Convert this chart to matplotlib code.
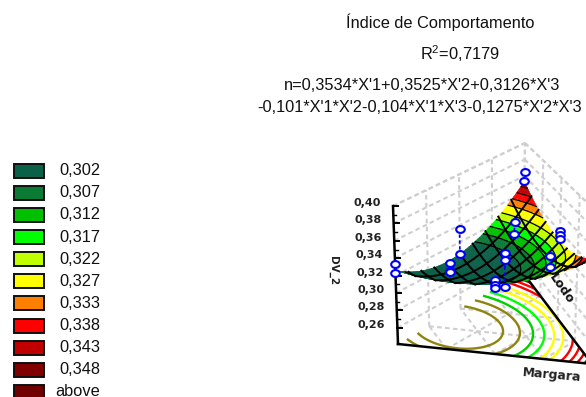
import numpy as np
import matplotlib
matplotlib.use("Agg")
import matplotlib.pyplot as plt
from matplotlib.collections import PolyCollection
from matplotlib.patches import Rectangle
from matplotlib.path import Path
from matplotlib.tri import Triangulation

# ---------- data ----------
title_lines = ["Índice de Comportamento", "R$^{2}$=0,7179",
               "n=0,3534*X'1+0,3525*X'2+0,3126*X'3",
               "-0,101*X'1*X'2-0,104*X'1*X'3-0,1275*X'2*X'3"]
legend_labels = ["0,302", "0,307", "0,312", "0,317", "0,322", "0,327",
                 "0,333", "0,338", "0,343", "0,348", "above"]
legend_colors = ["#0B6048", "#0A7A35", "#00C000", "#00FF00", "#BFFF00", "#FFFF00",
                 "#FF8000", "#FF0000", "#C00000", "#800000", "#700000"]
level_values = [0.302, 0.307, 0.312, 0.317, 0.322, 0.327, 0.333, 0.338, 0.343, 0.348]
z_ticks = [0.26, 0.28, 0.30, 0.32, 0.34, 0.36, 0.38, 0.40]
z_tick_labels = ["0,26", "0,28", "0,30", "0,32", "0,34", "0,36", "0,38", "0,40"]

# printed model, order (A=X'3, B=X'1, C=X'2): colours
model_main = [0.3126, 0.3534, 0.3525]
model_inter = [0.104, 0.1275, 0.101]     # AB, AC, BC
# surface height
height_main = [0.326, 0.3525, 0.3534]
height_inter = [0.084, 0.134, 0.0976]    # AB, AC, BC

contour_colors = ["#8F8410", "#8F8410", "#00D000", "#00FF00", "#FFFF00", "#FFFF00",
                  "#FF0000", "#FF0000", "#C00000", "#900000"]

# observations: weights on A, B, C and response
pt_a = [1, 1, .5, .5, 2/3, 2/3, 2/3, .5, .5, .5, 1/3, 1/3, 1/3, 1/6, 1/6, 0, 0, 0, 0, 0, 1/6, 1/6]
pt_b = [0, 0, 0, 0, 1/6, 1/6, 1/6, .5, .5, .5, 1/3, 1/3, 1/3, 1/6, 1/6, 0, 0, .5, .5, .5, 2/3, 2/3]
pt_c = [0, 0, .5, .5, 1/6, 1/6, 1/6, 0, 0, 0, 1/3, 1/3, 1/3, 2/3, 2/3, 1, 1, .5, .5, .5, 1/6, 1/6]
pt_z = [.3329, .3225, .3359, .3062, .3246, .3154, .3143, .3227, .3172, .3136,
        .3250, .3175, .2864, .3333, .3187, .3650, .3540, .3406, .3354, .3309, .3396, .3268]

# ---------- layout ----------
BASE_X = np.array([398.0, 592.0, 523.0])   # corners A, B, C on the floor
BASE_Y = np.array([344.0, 364.0, 273.0])
TOP_X = np.array([393.0, 598.0, 525.0])    # same corners at the top of the box
TOP_Y = np.array([206.0, 213.0, 143.0])
Z0, Z1 = 0.2415, 0.40


def project(a, b, c, z):
    a, b, c, z = map(np.asarray, (a, b, c, z))
    f = (z - Z0) / (Z1 - Z0)
    bx = a * BASE_X[0] + b * BASE_X[1] + c * BASE_X[2]
    by = a * BASE_Y[0] + b * BASE_Y[1] + c * BASE_Y[2]
    tx = a * TOP_X[0] + b * TOP_X[1] + c * TOP_X[2]
    ty = a * TOP_Y[0] + b * TOP_Y[1] + c * TOP_Y[2]
    return bx + (tx - bx) * f, by + (ty - by) * f


def height(a, b, c):
    m, k = height_main, height_inter
    return m[0]*a + m[1]*b + m[2]*c - k[0]*a*b - k[1]*a*c - k[2]*b*c


def colour_value(a, b, c):
    m, k = model_main, model_inter
    return m[0]*a + m[1]*b + m[2]*c - k[0]*a*b - k[1]*a*c - k[2]*b*c


plt.rcParams['font.family'] = ['Liberation Sans', 'DejaVu Sans']
plt.rcParams['mathtext.fontset'] = 'custom'
plt.rcParams['mathtext.rm'] = 'Liberation Sans'
fig = plt.figure(figsize=(5.86, 3.97), dpi=100)
ax = fig.add_axes([0, 0, 1, 1])
ax.set_xlim(0, 586)
ax.set_ylim(397, 0)
ax.axis('off')

# titles
for txt, x, y in zip(title_lines, [440, 460, 422, 420], [22, 54, 85, 108]):
    ax.text(x, y, txt, ha='center', va='center', fontsize=11.8, color='#111111')

# legend
for i, (lab, col) in enumerate(zip(legend_labels, legend_colors)):
    yc = 170.7 + i * 22.13
    ax.add_patch(Rectangle((13.5, yc - 7), 30, 14, fc=col, ec='#101010', lw=1.4, clip_on=False))
    ax.text(55 if lab == 'above' else 59, yc - (1 if lab == 'above' else 0), lab,
            ha='left', va='center', fontsize=11.8, color='#111111')

# grey walls and floor grid
grid = dict(color='#CFCFCF', lw=1.5, ls=(0, (2.2, 1.6)), zorder=1)
for zv in z_ticks + [Z1]:
    x, y = project([1, 0], [0, 0], [0, 1], [zv, zv]); ax.plot(x, y, **grid)
    x, y = project([0, 0], [0, 1], [1, 0], [zv, zv]); ax.plot(x, y, **grid)
for t in [.25, .5, .75, 1.0]:
    x, y = project([1-t]*2, [0]*2, [t]*2, [Z0, Z1]); ax.plot(x, y, **grid)
    x, y = project([0]*2, [1-t]*2, [t]*2, [Z0, Z1]); ax.plot(x, y, **grid)
for t in [.25, .5, .75]:
    x, y = project([t, t], [1-t, 0], [0, 1-t], [Z0, Z0]); ax.plot(x, y, **grid)
    x, y = project([1-t, 0], [t, t], [0, 1-t], [Z0, Z0]); ax.plot(x, y, **grid)
    x, y = project([1-t, 0], [0, 1-t], [t, t], [Z0, Z0]); ax.plot(x, y, **grid)

# fine simplex mesh
N = 72
ii, jj = np.meshgrid(np.arange(N+1), np.arange(N+1), indexing='ij')
mask = ii + jj <= N
idx = -np.ones_like(ii); idx[mask] = np.arange(mask.sum())
wa = ii[mask] / N; wb = jj[mask] / N; wc = 1 - wa - wb
tris = []
for i in range(N):
    for j in range(N - i):
        tris.append((idx[i, j], idx[i+1, j], idx[i, j+1]))
        if i + j < N - 1:
            tris.append((idx[i+1, j], idx[i+1, j+1], idx[i, j+1]))
tris = np.array(tris)

# floor contours
fx, fy = project(wa, wb, wc, np.full_like(wa, Z0))
tri_floor = Triangulation(fx, fy, tris)
ax.tricontour(tri_floor, colour_value(wa, wb, wc), levels=level_values,
              colors=contour_colors, linewidths=1.7, zorder=2)

# black frame
x, y = project([1, 0], [0, 1], [0, 0], [Z0, Z0]); ax.plot(x, y, color='k', lw=1.8, zorder=3)
x, y = project([0, 0], [1, 0], [0, 1], [Z0, Z0]); ax.plot(x, y, color='k', lw=1.8, zorder=3)
x, y = project([1, 1], [0, 0], [0, 0], [Z0, Z1]); ax.plot(x, y, color='k', lw=1.8, zorder=3)
for zv, lab in zip(z_ticks, z_tick_labels):
    x, y = project(1, 0, 0, zv)
    ax.plot([x, x + 5], [y, y], color='k', lw=1.4, zorder=3)
    ax.text(x - 12, y - 3, lab, ha='right', va='center', fontsize=8,
            family='DejaVu Sans', fontweight='bold', color='#222222')
for zv in z_ticks[:-1]:
    x, y = project(1, 0, 0, zv + 0.01)
    ax.plot([x, x + 3], [y, y], color='k', lw=1.0, zorder=3)

# surface: a legend entry gives the lower bound of its colour band
hs = height(wa, wb, wc)
sx, sy = project(wa, wb, wc, hs)
verts = np.dstack([sx[tris], sy[tris]])
cv = colour_value(wa, wb, wc)[tris].mean(axis=1)
band = np.clip(np.searchsorted(level_values, cv) - 1, 0, 10)
face = np.array([legend_colors[b] for b in band])
order = np.argsort(-wc[tris].mean(axis=1))
ax.add_collection(PolyCollection(verts[order], facecolors=face[order],
                                 edgecolors=face[order], linewidths=0.3, zorder=4))
tri_surf = Triangulation(sx, sy, tris)
ax.tricontour(tri_surf, colour_value(wa, wb, wc), levels=level_values[1:],
              colors='k', linewidths=0.9, zorder=5)

# mesh lines
ts = np.linspace(0, 1, 61)
for v in np.arange(1, 10) / 10:
    rest = (1 - v) * ts
    for a_, b_ in [(np.full_like(ts, v), rest), (rest, np.full_like(ts, v))]:
        c_ = 1 - a_ - b_
        x, y = project(a_, b_, c_, height(a_, b_, c_))
        ax.plot(x, y, color='k', lw=1.4, zorder=5)

# observations
pa, pb, pc, pz = map(np.array, (pt_a, pt_b, pt_c, pt_z))
px, py = project(pa, pb, pc, pz)
sfx, sfy = project(pa, pb, pc, height(pa, pb, pc))
for x0, y0, x1, y1 in zip(px, py, sfx, sfy):
    ax.plot([x0, x1], [y0, y1], color='#0000FF', lw=1.2, ls=(0, (2, 1.5)), zorder=6)
circle = Path.unit_circle()
ellipse = Path(circle.vertices * np.array([1.0, 0.8]), circle.codes)
ax.plot(px, py, ls='none', marker=ellipse, ms=6.2, mfc='white', mec='#0000FF', mew=1.5, zorder=7)

# axis names
ax.text(333, 271, "DV_2", rotation=-90, ha='center', va='center', fontsize=7.5,
        family='DejaVu Sans', fontweight='bold', color='#222222')
ax.text(561, 289, "Lodo", rotation=-55, ha='center', va='center', fontsize=9,
        family='DejaVu Sans', fontweight='bold', color='#111111', zorder=8)
ax.text(552, 375, "Margara", rotation=-5, ha='center', va='center', fontsize=9,
        family='DejaVu Sans', fontweight='bold', color='#222222')

fig.savefig("out.png", dpi=100)
